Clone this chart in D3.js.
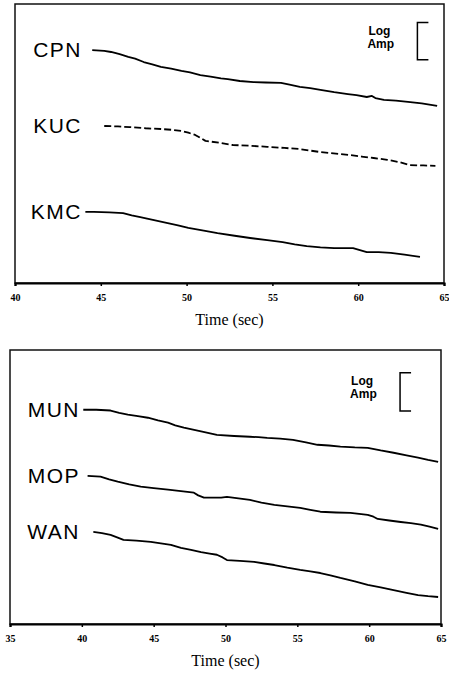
<!DOCTYPE html>
<html>
<head>
<meta charset="utf-8">
<script src="https://cdn.jsdelivr.net/npm/d3@7"></script>
<style>
  html, body { margin: 0; padding: 0; background: #fff; }
  svg { display: block; }
</style>
</head>
<body>
<svg id="chart" width="449" height="673"></svg>
<script>
// Tick labels for each panel's time axis (seconds)
const ticksTop = [40, 45, 50, 55, 60, 65];
const ticksBottom = [35, 40, 45, 50, 55, 60, 65];

// Station names for each panel
const stationsTop = ["CPN", "KUC", "KMC"];
const stationsBottom = ["MUN", "MOP", "WAN"];

// Stacked log-amplitude traces: [time (s), log amplitude + stack offset]
const CPN = [[44.5,6.26],[45.2,6.24],[45.6,6.21],[46.1,6.15],[46.6,6.08],[47.0,6.03],[47.5,5.94],[48.0,5.88],[48.5,5.81],[49.1,5.76],[49.7,5.70],[50.2,5.66],[50.8,5.59],[51.4,5.55],[52.0,5.50],[52.4,5.48],[53.1,5.43],[53.9,5.40],[54.6,5.39],[55.5,5.38],[56.0,5.33],[56.6,5.27],[57.2,5.24],[57.8,5.19],[58.6,5.13],[59.4,5.08],[59.9,5.05],[60.5,5.00],[60.8,5.03],[61.0,4.97],[61.5,4.92],[62.2,4.90],[62.9,4.87],[63.7,4.83],[64.6,4.76]];
const KUC = [[45.2,4.22],[46.0,4.21],[46.7,4.19],[47.6,4.16],[48.5,4.14],[49.1,4.12],[49.7,4.09],[50.1,4.04],[50.5,3.98],[50.8,3.90],[51.1,3.82],[51.9,3.77],[52.7,3.71],[53.7,3.69],[54.7,3.66],[55.7,3.63],[56.6,3.60],[57.2,3.56],[57.8,3.52],[58.7,3.48],[59.5,3.44],[60.2,3.40],[60.9,3.36],[61.7,3.31],[62.4,3.25],[63.0,3.17],[63.8,3.16],[64.5,3.15]];
const KMC = [[44.1,1.91],[44.6,1.91],[45.5,1.90],[46.3,1.88],[46.8,1.82],[47.3,1.77],[48.1,1.69],[48.9,1.61],[49.5,1.55],[50.1,1.48],[51.0,1.41],[51.8,1.34],[52.8,1.27],[53.7,1.21],[54.7,1.15],[55.6,1.10],[56.3,1.04],[57.0,0.99],[57.8,0.96],[58.6,0.94],[59.7,0.94],[60.5,0.83],[61.2,0.83],[61.9,0.81],[62.7,0.76],[63.6,0.70]];

const MUN = [[40.1,5.63],[41.0,5.63],[42.0,5.61],[42.6,5.55],[43.2,5.50],[43.9,5.46],[44.6,5.42],[45.3,5.35],[46.0,5.29],[46.5,5.22],[47.1,5.16],[48.3,5.06],[49.4,4.97],[50.6,4.94],[51.7,4.92],[52.3,4.91],[52.9,4.89],[53.8,4.87],[54.7,4.84],[55.6,4.77],[56.4,4.71],[57.2,4.69],[58.0,4.66],[59.0,4.64],[59.9,4.63],[60.8,4.56],[61.7,4.50],[62.6,4.43],[63.4,4.37],[64.1,4.31],[64.8,4.26]];
const MOP = [[40.4,3.89],[41.3,3.87],[41.9,3.80],[42.5,3.74],[43.3,3.67],[44.1,3.61],[45.0,3.57],[46.0,3.53],[46.9,3.49],[47.8,3.45],[48.1,3.38],[48.5,3.32],[49.1,3.32],[49.7,3.32],[50.1,3.34],[50.9,3.30],[51.7,3.26],[52.5,3.19],[53.4,3.13],[54.3,3.09],[55.2,3.05],[55.9,3.00],[56.6,2.95],[57.7,2.93],[58.7,2.92],[59.9,2.87],[60.3,2.82],[60.6,2.76],[61.4,2.72],[62.2,2.68],[62.9,2.65],[63.6,2.61],[64.2,2.56],[64.8,2.50]];
const WAN = [[40.8,2.42],[41.4,2.39],[42.0,2.34],[42.5,2.27],[42.9,2.21],[43.8,2.19],[44.8,2.16],[45.5,2.12],[46.2,2.08],[46.9,2.00],[47.6,1.95],[48.3,1.89],[48.9,1.85],[49.4,1.82],[49.8,1.75],[50.1,1.68],[51.0,1.66],[52.0,1.63],[52.7,1.59],[53.4,1.55],[54.3,1.48],[55.2,1.42],[55.9,1.38],[56.6,1.34],[57.3,1.28],[58.0,1.21],[59.0,1.12],[59.9,1.03],[60.8,0.96],[61.7,0.89],[62.6,0.82],[63.4,0.76],[64.1,0.73],[64.8,0.71]];

const svg = d3.select("#chart");

function drawPanel(cfg) {
  const x = d3.scaleLinear().domain(cfg.timeDomain).range([cfg.left, cfg.right]);
  const y = d3.scaleLinear().domain(cfg.ampDomain).range([cfg.bottom, cfg.top]);
  const g = svg.append("g");

  // frame
  g.append("rect")
    .attr("x", cfg.left).attr("y", cfg.top)
    .attr("width", cfg.right - cfg.left).attr("height", cfg.bottom - cfg.top)
    .attr("fill", "none").attr("stroke", "#111").attr("stroke-width", 1.5);

  // time axis
  const axis = d3.axisBottom(x).tickValues(cfg.ticks).tickSize(3).tickPadding(8)
    .tickFormat(d3.format("d"));
  const ax = g.append("g").attr("transform", `translate(0,${cfg.bottom})`).call(axis);
  ax.select(".domain").attr("stroke", "#000").attr("stroke-width", 2.2);
  ax.selectAll(".tick line").attr("stroke", "#000").attr("stroke-width", 1.5);
  ax.selectAll(".tick text")
    .attr("fill", "#000")
    .style("font-family", "'Liberation Serif', serif")
    .style("font-weight", "bold")
    .style("font-size", "10px");

  g.append("text")
    .attr("x", (cfg.left + cfg.right) / 2).attr("y", cfg.bottom + 42)
    .attr("text-anchor", "middle")
    .style("font-family", "'Liberation Serif', serif")
    .style("font-size", "16px")
    .text("Time (sec)");

  // traces with station names
  const line = d3.line().x(d => x(d[0])).y(d => y(d[1]));
  cfg.names.forEach((name, i) => {
    const data = cfg.series[i];
    g.append("path")
      .datum(data)
      .attr("d", line)
      .attr("fill", "none")
      .attr("stroke", "#000")
      .attr("stroke-width", 1.8)
      .attr("stroke-linejoin", "round")
      .attr("stroke-dasharray", cfg.dashed[i] ? "7,3" : null);
    g.append("text")
      .attr("x", cfg.labelX)
      .attr("y", y(data[0][1]) + 7)
      .attr("text-anchor", "end")
      .style("font-family", "'Liberation Sans', Arial, sans-serif")
      .style("font-size", "21px")
      .style("letter-spacing", "1.5px")
      .text(name);
  });

  // log-amplitude scale bar (one unit)
  const bx = x(cfg.barTime), by0 = y(cfg.barAmp), by1 = y(cfg.barAmp - 1);
  g.append("path")
    .attr("d", `M${bx + 11},${by0}H${bx}V${by1}H${bx + 11}`)
    .attr("fill", "none").attr("stroke", "#000").attr("stroke-width", 1.5);
  const leg = g.append("text")
    .attr("x", bx - 50).attr("y", by0 + 12)
    .style("font-family", "'Liberation Sans', Arial, sans-serif")
    .style("font-weight", "bold").style("font-size", "12px");
  leg.append("tspan").attr("x", bx - 49).text("Log");
  leg.append("tspan").attr("x", bx - 50).attr("dy", 13.5).text("Amp");
}

drawPanel({
  left: 15, right: 444, top: 4, bottom: 283,
  timeDomain: [40, 65], ampDomain: [0, 7.5], ticks: ticksTop,
  names: stationsTop, series: [CPN, KUC, KMC], dashed: [false, true, false],
  labelX: 82, barTime: 63.45, barAmp: 7.0
});

drawPanel({
  left: 10, right: 441, top: 350, bottom: 624,
  timeDomain: [35, 65], ampDomain: [0, 7.2], ticks: ticksBottom,
  names: stationsBottom, series: [MUN, MOP, WAN], dashed: [false, false, false],
  labelX: 80, barTime: 62.15, barAmp: 6.6
});
</script>
</body>
</html>
